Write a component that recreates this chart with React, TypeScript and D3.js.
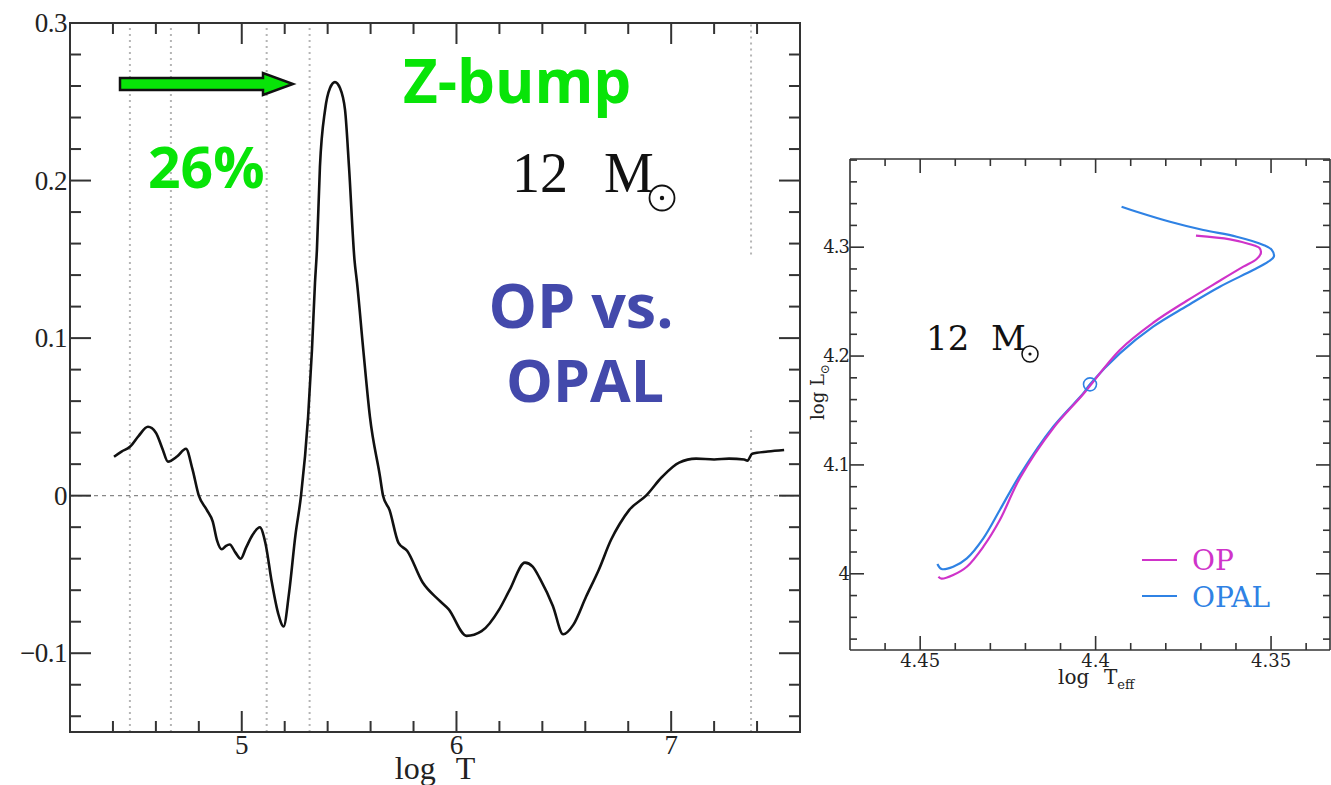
import React from 'react';
import * as d3 from 'd3';

// ---------- Left panel data: opacity difference vs log T ----------
const logT = [4.405, 4.44, 4.479, 4.52, 4.563, 4.6, 4.63, 4.656, 4.7, 4.74, 4.77, 4.8, 4.837, 4.865, 4.884, 4.907, 4.925, 4.944, 4.97, 4.995, 5.02, 5.05, 5.084, 5.11, 5.14, 5.17, 5.195, 5.22, 5.25, 5.276, 5.309, 5.327, 5.341, 5.35, 5.364, 5.388, 5.411, 5.434, 5.4575, 5.481, 5.4995, 5.525, 5.537, 5.566, 5.597, 5.644, 5.658, 5.688, 5.73, 5.77, 5.842, 5.916, 5.963, 6.047, 6.117, 6.2, 6.247, 6.319, 6.355, 6.39, 6.449, 6.497, 6.544, 6.604, 6.663, 6.72, 6.76, 6.805, 6.883, 6.958, 7.037, 7.116, 7.2, 7.27, 7.34, 7.355, 7.377, 7.45, 7.526];
const dKappa = [0.0247, 0.028, 0.031, 0.038, 0.0437, 0.04, 0.03, 0.0216, 0.025, 0.0298, 0.017, 0.0, -0.009, -0.0165, -0.028, -0.034, -0.032, -0.031, -0.036, -0.04, -0.033, -0.025, -0.02, -0.03, -0.055, -0.075, -0.083, -0.062, -0.025, 0.0, 0.05, 0.0926, 0.135, 0.156, 0.2086, 0.2448, 0.2587, 0.2625, 0.2587, 0.2448, 0.2086, 0.1497, 0.135, 0.0926, 0.05, 0.012, 0.0, -0.009, -0.03, -0.035, -0.055, -0.066, -0.072, -0.089, -0.086, -0.072, -0.06, -0.0425, -0.045, -0.053, -0.07, -0.088, -0.082, -0.064, -0.047, -0.028, -0.018, -0.009, 0.0, 0.012, 0.021, 0.0235, 0.023, 0.0235, 0.023, 0.0222, 0.0266, 0.028, 0.029];
const ionLineT = [4.479, 4.67, 5.116, 5.316, 7.372, 7.372];
const ionLineFrom = [-0.15, -0.15, -0.15, -0.15, -0.15, 0.153];
const ionLineTo = [0.3, 0.3, 0.3, 0.3, 0.042, 0.3];
const leftXTicks = [5, 6, 7];
const leftYTicks = [-0.1, 0, 0.1, 0.2, 0.3];
const leftYLabels = ['\u22120.1', '0', '0.1', '0.2', '0.3'];

// ---------- Right panel data: HR diagram ----------
const opTeff = [4.4448, 4.4439, 4.4406, 4.4367, 4.432, 4.4273, 4.4216, 4.4121, 4.4035, 4.3931, 4.3836, 4.374, 4.3646, 4.3579, 4.3541, 4.3529, 4.3533, 4.356, 4.3617, 4.3714];
const opL = [3.9973, 3.9955, 3.9989, 4.0065, 4.0249, 4.0494, 4.0877, 4.1336, 4.1651, 4.2056, 4.2306, 4.2508, 4.2692, 4.2821, 4.2891, 4.2947, 4.2992, 4.3027, 4.3072, 4.3106];
const opalTeff = [4.4451, 4.4439, 4.4406, 4.4367, 4.432, 4.4273, 4.4216, 4.4121, 4.4035, 4.4016, 4.3931, 4.3836, 4.374, 4.3646, 4.3551, 4.3508, 4.3492, 4.3498, 4.3522, 4.3598, 4.3693, 4.3788, 4.3883, 4.3926];
const opalL = [4.009, 4.0044, 4.0065, 4.0142, 4.0326, 4.0586, 4.0907, 4.1351, 4.1658, 4.1741, 4.2025, 4.227, 4.246, 4.2637, 4.279, 4.2867, 4.2913, 4.2975, 4.3021, 4.3096, 4.3158, 4.3234, 4.3326, 4.3372];
const markerTeff = [4.4016];
const markerL = [4.174];
const hrdXTicks = [4.45, 4.4, 4.35];
const hrdYTicks = [4, 4.1, 4.2, 4.3];
const seriesNames = ['OP', 'OPAL'];

const COL_OP = '#cf33c9';
const COL_OPAL = '#2f82e4';
const GREEN = '#08e408';
const BLUE_TXT = '#4349ab';
const AX = '#333';

export default function App() {
  // left scales
  const lx = d3.scaleLinear().domain([4.2, 7.6]).range([70, 800]);
  const ly = d3.scaleLinear().domain([-0.15, 0.3]).range([732, 23]);
  // right scales
  const rx = d3.scaleLinear().domain([4.47, 4.3332]).range([850, 1330]);
  const ry = d3.scaleLinear().domain([3.93, 4.381]).range([650, 159]);

  const leftPts = logT.map((t, i) => [t, dKappa[i]] as [number, number]);
  const leftLine = d3.line<[number, number]>().x(d => lx(d[0])).y(d => ly(d[1])).curve(d3.curveMonotoneX);

  const opPts = opTeff.map((t, i) => [t, opL[i]] as [number, number]);
  const opalPts = opalTeff.map((t, i) => [t, opalL[i]] as [number, number]);
  const hrLine = d3.line<[number, number]>().x(d => rx(d[0])).y(d => ry(d[1])).curve(d3.curveCatmullRom.alpha(0.5));

  const lxMinor = d3.range(4.4, 7.6, 0.2).filter(v => Math.abs(v - Math.round(v)) > 0.01);
  const lyMinor = d3.range(-0.14, 0.3, 0.02).filter(v => Math.abs(v * 10 - Math.round(v * 10)) > 0.01);
  const rxMinor = d3.range(4.34, 4.47, 0.01).filter(v => Math.abs(v * 20 - Math.round(v * 20)) > 0.01);
  const ryMinor = d3.range(3.94, 4.381, 0.02).filter(v => Math.abs(v * 10 - Math.round(v * 10)) > 0.01);

  const [L, R] = lx.range();
  const [B, T] = ly.range();
  const [RL, RR] = rx.range();
  const [RB, RT] = ry.range();

  // arrow geometry (annotation)
  const ax0 = 120, ax1 = 263, atip = 293, ay = 84;
  const arrowPath = `M${ax0},${ay - 6} L${ax1},${ay - 6} L${ax1},${ay - 11} L${atip},${ay} L${ax1},${ay + 11} L${ax1},${ay + 6} L${ax0},${ay + 6} Z`;

  return (
    <svg width={1331} height={785} style={{ position: 'absolute', left: 0, top: 0, background: '#fff' }}>
      <rect x={0} y={0} width={1331} height={785} fill="#fff" />

      {/* ===== Left panel ===== */}
      {ionLineT.map((t, i) => (
        <line key={'ion' + i} x1={lx(t)} x2={lx(t)} y1={ly(ionLineFrom[i])} y2={ly(ionLineTo[i])}
          stroke="#b5b5b5" strokeWidth={2} strokeDasharray="2,4" />
      ))}
      <line x1={L} x2={R} y1={ly(0)} y2={ly(0)} stroke="#888" strokeWidth={1.2} strokeDasharray="4,4" />

      {/* frame */}
      <rect x={L} y={T} width={R - L} height={B - T} fill="none" stroke={AX} strokeWidth={2} />
      {leftXTicks.map(v => (
        <g key={'lxt' + v}>
          <line x1={lx(v)} x2={lx(v)} y1={B} y2={B - 21} stroke={AX} strokeWidth={2} />
          <line x1={lx(v)} x2={lx(v)} y1={T} y2={T + 21} stroke={AX} strokeWidth={2} />
          <text x={lx(v)} y={754} textAnchor="middle" fontFamily="Liberation Serif" fontSize={27} fill="#222">{v}</text>
        </g>
      ))}
      {lxMinor.map(v => (
        <g key={'lxm' + v}>
          <line x1={lx(v)} x2={lx(v)} y1={B} y2={B - 11} stroke={AX} strokeWidth={2} />
          <line x1={lx(v)} x2={lx(v)} y1={T} y2={T + 11} stroke={AX} strokeWidth={2} />
        </g>
      ))}
      {leftYTicks.map((v, i) => (
        <g key={'lyt' + v}>
          <line x1={L} x2={L + 21} y1={ly(v)} y2={ly(v)} stroke={AX} strokeWidth={2} />
          <line x1={R} x2={R - 21} y1={ly(v)} y2={ly(v)} stroke={AX} strokeWidth={2} />
          <text x={67} y={ly(v) + 9} textAnchor="end" fontFamily="Liberation Serif" fontSize={27} fill="#222" letterSpacing={-0.5}>{leftYLabels[i]}</text>
        </g>
      ))}
      {lyMinor.map(v => (
        <g key={'lym' + v}>
          <line x1={L} x2={L + 11} y1={ly(v)} y2={ly(v)} stroke={AX} strokeWidth={2} />
          <line x1={R} x2={R - 11} y1={ly(v)} y2={ly(v)} stroke={AX} strokeWidth={2} />
        </g>
      ))}
      <text x={(L + R) / 2} y={779} textAnchor="middle" fontFamily="Liberation Serif" fontSize={32} fill="#222">
        log<tspan dx={20}>T</tspan>
      </text>

      {/* curve */}
      <path d={leftLine(leftPts) || ''} fill="none" stroke="#111" strokeWidth={2.6} strokeLinejoin="round" />

      {/* annotations */}
      <path d={arrowPath} fill={GREEN} stroke="#111" strokeWidth={2.5} strokeLinejoin="miter" />
      <text x={403} y={103} fontFamily="Open Sans" fontWeight={700} fontSize={60} fill={GREEN}>Z-bump</text>
      <text x={148} y={188} fontFamily="Open Sans" fontWeight={700} fontSize={57} fill={GREEN}>26%</text>
      <text x={581} y={328} textAnchor="middle" fontFamily="Open Sans" fontWeight={700} fontSize={61} fill={BLUE_TXT}>OP vs.</text>
      <text x={585} y={402} textAnchor="middle" fontFamily="Open Sans" fontWeight={700} fontSize={59} fill={BLUE_TXT}>OPAL</text>

      <text y={192} fontFamily="Liberation Serif" fontSize={56} fill="#111">
        <tspan x={512}>12</tspan><tspan x={604}>M</tspan>
      </text>
      <circle cx={662} cy={198} r={12.5} fill="none" stroke="#111" strokeWidth={1.8} />
      <circle cx={662} cy={198} r={2.2} fill="#111" />

      {/* ===== Right panel ===== */}
      <line x1={RL} x2={RR} y1={RT} y2={RT} stroke={AX} strokeWidth={1.6} />
      <line x1={RL} x2={RR} y1={RB} y2={RB} stroke={AX} strokeWidth={1.6} />
      <line x1={RL} x2={RL} y1={RT} y2={RB} stroke={AX} strokeWidth={1.6} />
      <line x1={RR} x2={RR} y1={RT} y2={RB} stroke={AX} strokeWidth={1.6} />
      {hrdXTicks.map(v => (
        <g key={'rxt' + v}>
          <line x1={rx(v)} x2={rx(v)} y1={RB} y2={RB - 14} stroke={AX} strokeWidth={1.6} />
          <line x1={rx(v)} x2={rx(v)} y1={RT} y2={RT + 14} stroke={AX} strokeWidth={1.6} />
          <text x={rx(v)} y={667} textAnchor="middle" fontFamily="DejaVu Serif" fontSize={18} fill="#222">{v}</text>
        </g>
      ))}
      {rxMinor.map(v => (
        <g key={'rxm' + v}>
          <line x1={rx(v)} x2={rx(v)} y1={RB} y2={RB - 7} stroke={AX} strokeWidth={1.6} />
          <line x1={rx(v)} x2={rx(v)} y1={RT} y2={RT + 7} stroke={AX} strokeWidth={1.6} />
        </g>
      ))}
      {hrdYTicks.map(v => (
        <g key={'ryt' + v}>
          <line x1={RL} x2={RL + 14} y1={ry(v)} y2={ry(v)} stroke={AX} strokeWidth={1.6} />
          <line x1={RR} x2={RR - 14} y1={ry(v)} y2={ry(v)} stroke={AX} strokeWidth={1.6} />
          <text x={849} y={ry(v) + 6} textAnchor="end" fontFamily="DejaVu Serif" fontSize={18} fill="#222" letterSpacing={-1}>{v}</text>
        </g>
      ))}
      {ryMinor.map(v => (
        <g key={'rym' + v}>
          <line x1={RL} x2={RL + 7} y1={ry(v)} y2={ry(v)} stroke={AX} strokeWidth={1.6} />
          <line x1={RR} x2={RR - 7} y1={ry(v)} y2={ry(v)} stroke={AX} strokeWidth={1.6} />
        </g>
      ))}
      <text x={1058} y={684} fontFamily="DejaVu Serif" fontSize={20} fill="#222">
        log<tspan x={1104}>T</tspan><tspan dy={5} fontSize={13}>eff</tspan>
      </text>
      <text transform="translate(824,392) rotate(-90)" textAnchor="middle" fontFamily="DejaVu Serif" fontSize={18} fill="#222">
        log L<tspan dy={5} fontSize={12}>{'\u2299'}</tspan>
      </text>

      <path d={hrLine(opalPts) || ''} fill="none" stroke={COL_OPAL} strokeWidth={2.2} strokeLinejoin="round" />
      <path d={hrLine(opPts) || ''} fill="none" stroke={COL_OP} strokeWidth={2.2} strokeLinejoin="round" />
      {markerTeff.map((t, i) => (
        <circle key={'mk' + i} cx={rx(t)} cy={ry(markerL[i])} r={6.5} fill="none" stroke={COL_OPAL} strokeWidth={1.6} />
      ))}

      {/* legend */}
      {seriesNames.map((n, i) => (
        <g key={'lg' + n}>
          <line x1={1142} x2={1177} y1={560 + i * 36} y2={560 + i * 36} stroke={i === 0 ? COL_OP : COL_OPAL} strokeWidth={2} />
          <text x={1192} y={570 + i * 37} fontFamily="DejaVu Serif" fontSize={28} fill={i === 0 ? COL_OP : COL_OPAL}>{n}</text>
        </g>
      ))}

      <text y={350} fontFamily="DejaVu Serif" fontSize={34} fill="#111">
        <tspan x={926}>12</tspan><tspan x={991}>M</tspan>
      </text>
      <circle cx={1030} cy={354} r={8} fill="none" stroke="#111" strokeWidth={1.5} />
      <circle cx={1030} cy={354} r={1.6} fill="#111" />
    </svg>
  );
}
